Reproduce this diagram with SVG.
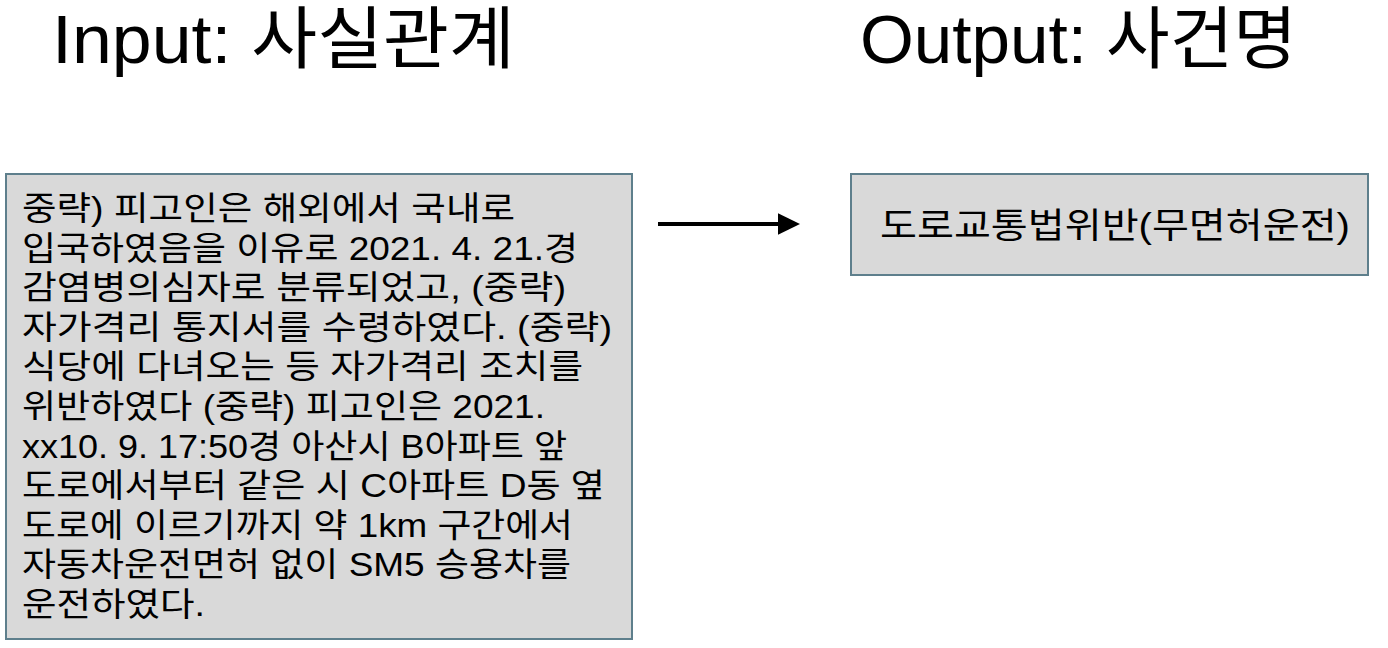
<svg xmlns="http://www.w3.org/2000/svg" width="1388" height="648" viewBox="0 0 1388 648">
<style>
.title{font-family:"Liberation Sans","Noto Sans CJK KR",sans-serif;font-size:68px;fill:#000}
.body{font-family:"Liberation Sans","Noto Sans CJK KR",sans-serif;font-size:33px;fill:#000}
.out{font-family:"Liberation Sans","Noto Sans CJK KR",sans-serif;font-size:35px;fill:#000}
.box{fill:#D9D9D9;stroke:#5E7F8C;stroke-width:2}
.conn{stroke:#000;stroke-width:4;fill:none}
</style>
<defs>
<marker id="ah" markerWidth="6" markerHeight="6" refX="0" refY="3" orient="auto" markerUnits="strokeWidth">
<path d="M0,0.3 L5.5,3 L0,5.7 Z" fill="#000"/>
</marker>
</defs>
<g id="title-input"><text class="title" x="52" y="63" textLength="463" lengthAdjust="spacingAndGlyphs">Input: 사실관계</text></g>
<g id="title-output"><text class="title" x="860" y="63" textLength="437" lengthAdjust="spacingAndGlyphs">Output: 사건명</text></g>
<g id="input-node">
<rect class="box" x="6" y="174" width="626" height="465"/>
<text class="body" x="22" y="220" textLength="493" lengthAdjust="spacingAndGlyphs">중략) 피고인은 해외에서 국내로</text>
<text class="body" x="22" y="259.6" textLength="556" lengthAdjust="spacingAndGlyphs">입국하였음을 이유로 2021. 4. 21.경</text>
<text class="body" x="22" y="299.2" textLength="544" lengthAdjust="spacingAndGlyphs">감염병의심자로 분류되었고, (중략)</text>
<text class="body" x="22" y="338.8" textLength="590" lengthAdjust="spacingAndGlyphs">자가격리 통지서를 수령하였다. (중략)</text>
<text class="body" x="22" y="378.4" textLength="561" lengthAdjust="spacingAndGlyphs">식당에 다녀오는 등 자가격리 조치를</text>
<text class="body" x="22" y="418" textLength="523" lengthAdjust="spacingAndGlyphs">위반하였다 (중략) 피고인은 2021.</text>
<text class="body" x="22" y="457.6" textLength="545" lengthAdjust="spacingAndGlyphs">xx10. 9. 17:50경 아산시 B아파트 앞</text>
<text class="body" x="22" y="497.2" textLength="583" lengthAdjust="spacingAndGlyphs">도로에서부터 같은 시 C아파트 D동 옆</text>
<text class="body" x="22" y="536.8" textLength="551" lengthAdjust="spacingAndGlyphs">도로에 이르기까지 약 1km 구간에서</text>
<text class="body" x="22" y="576.4" textLength="549" lengthAdjust="spacingAndGlyphs">자동차운전면허 없이 SM5 승용차를</text>
<text class="body" x="22" y="616" textLength="183" lengthAdjust="spacingAndGlyphs">운전하였다.</text>
</g>
<g id="output-node">
<rect class="box" x="851" y="174" width="517" height="101"/>
<text class="out" x="880" y="238" textLength="470" lengthAdjust="spacingAndGlyphs">도로교통법위반(무면허운전)</text>
</g>
<g id="connectors">
<line class="conn" x1="658" y1="224" x2="778" y2="224" marker-end="url(#ah)"/>
</g>
</svg>
